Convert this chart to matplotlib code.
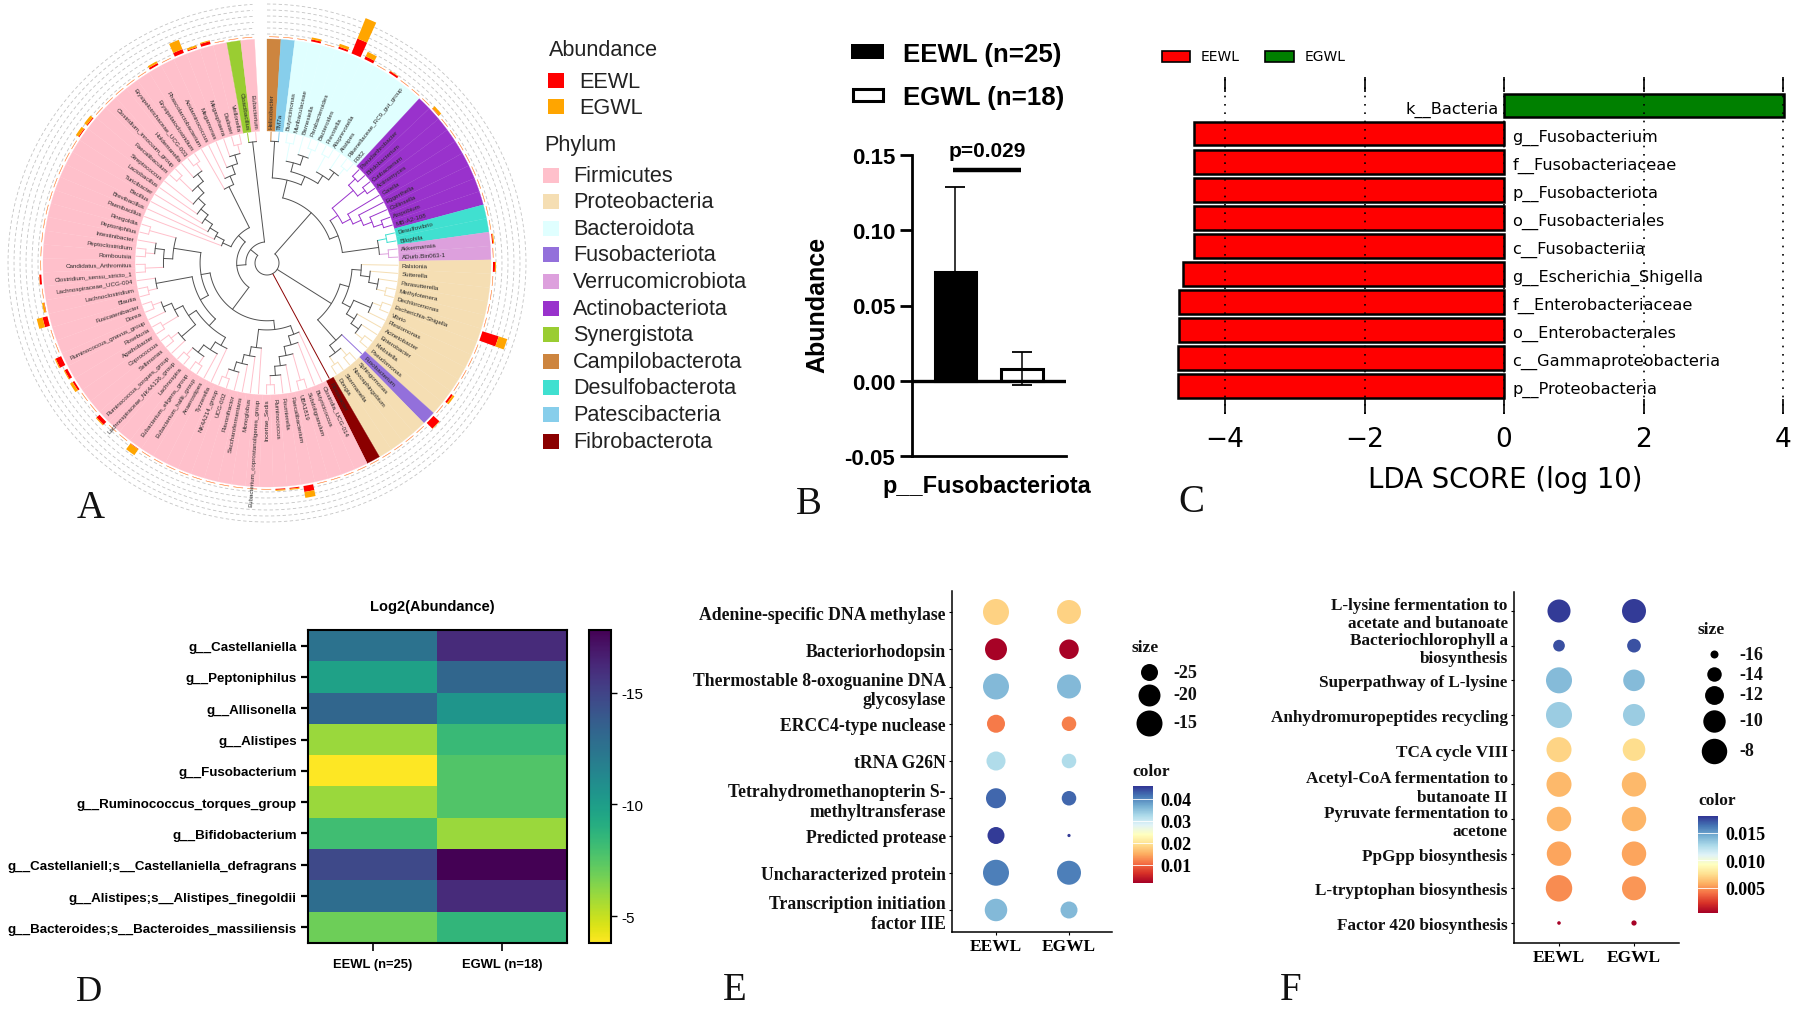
import numpy as np
import matplotlib

matplotlib.use("Agg")
import matplotlib.pyplot as plt
from matplotlib.cm import ScalarMappable
from matplotlib.colors import Normalize
from matplotlib.patches import Rectangle

plt.rcParams["font.family"] = ["Liberation Sans", "DejaVu Sans"]

W, H = 1793, 1012
SERIF = "Liberation Serif"

# --- A: tree, written clockwise from the top gap ---
bacteroidota = [[["Butyricimonas", "Muribaculaceae"], ["Barnesiella", ["Parabacteroides", "Bacteroides"]]],
                [["Prevotella", "Alloprevotella"], ["Alistipes", ["Rikenellaceae_RC9_gut_group", "F082"]]]]
actino = [[["Pseudarthrobacter", "Bifidobacterium"], ["Cutibacterium", "Actinomyces"]],
          ["Gaiella", ["Eggerthella", ["Collinsella", ["Atopobium", "MB-A2-108"]]]]]
proteo_1 = [["Ralstonia", ["Sutterella", ["Parasutterella", ["Methylotenera", "Dechloromonas"]]]],
            [[["Escherichia-Shigella", "Vibrio"], "Plesiomonas"],
             ["Acinetobacter", ["Enterobacter", ["Klebsiella", "Pseudomonas"]]]]]
proteo_2 = [["Sphingomonas", "Novosphingobium"], ["Skermanella", "Dongia"]]
oscillo = ["Clostridia_UCG-014", ["Butyricicoccus", [["Subdoligranulum", "UBA1819"],
           ["Faecalibacterium", ["Fournierella", ["Ruminococcus", "Incertae_Sedis"]]]]]]
copro = ["Eubacterium_coprostanoligenes_group", ["Monoglobus", ["Saccharofermentans",
         ["Flavonifractor", ["UCG-002", "NK4A214_group"]]]]]
lachno = ["Tyzzerella", ["Anaerostipes", [["Eubacterium_hallii_group", "Eubacterium_eligens_group"],
          ["Lachnospira", "Lachnospiraceae_NK4A136_group"]]]]
rumino = [["Ruminococcus_torques_group", ["Sellimonas", "Coprococcus"]],
          [["Agathobacter", "Roseburia"], ["Ruminococcus_gnavus_group", ["Dorea", "Fusicatenibacter"]]]]
blautia = [["Blautia", "Lachnoclostridium"], "Lachnospiraceae_UCG-004"]
clostr = [["Clostridium_sensu_stricto_1", "Candidatus_Arthromitus"],
          [["Romboutsia", "Peptoclostridium"], "Intestinibacter"]]
bacilli = ["Paenibacillus", ["Brevibacillus", ["Bacillus", ["Turicibacter", ["Lactobacillus", ["Streptococcus",
           [["Faecalibaculum", "Clostridium_innocuum_group"],
            ["Holdemanella", ["Erysipelotrichaceae_UCG-003", "Erysipelatoclostridium"]]]]]]]]]
veillon = ["Phascolarctobacterium", ["Acidaminococcus", ["Megamonas", ["Megasphaera", ["Dialister", "Veillonella"]]]]]
firmicutes = [[[oscillo, copro], [[[lachno, rumino], blautia], [clostr, ["Peptoniphilus", "Finegoldia"]]]],
              [bacilli, veillon]]
tree = [[[["Helicobacter", "TM7a"], bacteroidota],
         [actino, [["Desulfovibrio", "Bilophila"], ["Akkermansia", "ADurb.Bin063-1"]]]],
        [proteo_1, ["Fusobacterium", proteo_2]],
        "Fibrobacter",
        [firmicutes, ["Cloacibacillus", "Eubacterium"]]]

phylum_runs = [("Campilobacterota", 1), ("Patescibacteria", 1), ("Bacteroidota", 10), ("Actinobacteriota", 9),
               ("Desulfobacterota", 2), ("Verrucomicrobiota", 2), ("Proteobacteria", 12), ("Fusobacteriota", 1),
               ("Proteobacteria", 4), ("Fibrobacterota", 1), ("Firmicutes", 55), ("Synergistota", 1),
               ("Firmicutes", 1)]
phylum_names = ["Firmicutes", "Proteobacteria", "Bacteroidota", "Fusobacteriota", "Verrucomicrobiota",
                "Actinobacteriota", "Synergistota", "Campilobacterota", "Desulfobacterota",
                "Patescibacteria", "Fibrobacterota"]
phylum_colors = ["#ffc0cb", "#f5deb3", "#e0ffff", "#9370db", "#dda0dd", "#9932cc", "#9acd32", "#cd853f",
                 "#40e0d0", "#87ceeb", "#8b0000"]

# абунданс снаружи кольца, для остальных родов очень маленькое значение
abund_eewl = {"Bacteroides": 0.16, "Prevotella": 0.03, "Faecalibacterium": 0.06, "Escherichia-Shigella": 0.17,
              "Fusobacterium": 0.08, "Megamonas": 0.04, "Blautia": 0.05, "Ruminococcus_gnavus_group": 0.06,
              "Eubacterium_eligens_group": 0.005, "Ruminococcus_torques_group": 0.04, "Agathobacter": 0.02,
              "Roseburia": 0.03, "Muribaculaceae": 0.02, "Parabacteroides": 0.02, "Alistipes": 0.02,
              "Bifidobacterium": 0.005, "Klebsiella": 0.02, "Ralstonia": 0.02, "Akkermansia": 0.01,
              "Dialister": 0.03, "Phascolarctobacterium": 0.02, "Streptococcus": 0.01, "Lactobacillus": 0.01,
              "Lachnoclostridium": 0.005, "Clostridium_sensu_stricto_1": 0.02, "Fournierella": 0.01,
              "Ruminococcus": 0.01, "Megasphaera": 0.01}
abund_egwl = {"Bacteroides": 0.22, "Prevotella": 0.05, "Faecalibacterium": 0.06, "Escherichia-Shigella": 0.09,
              "Fusobacterium": 0.005, "Megamonas": 0.10, "Blautia": 0.06, "Ruminococcus_gnavus_group": 0.01,
              "Eubacterium_eligens_group": 0.07, "Ruminococcus_torques_group": 0.01, "Agathobacter": 0.03,
              "Roseburia": 0.01, "Muribaculaceae": 0.02, "Parabacteroides": 0.03, "Alistipes": 0.005,
              "Bifidobacterium": 0.03, "Klebsiella": 0.02, "Ralstonia": 0.01, "Akkermansia": 0.01,
              "Dialister": 0.01, "Phascolarctobacterium": 0.02, "Streptococcus": 0.03, "Lactobacillus": 0.03,
              "Lachnoclostridium": 0.02, "Fournierella": 0.01, "Ruminococcus": 0.01, "Megasphaera": 0.02}
abund_default = 0.003

# --- B ---
b_values = [0.072, 0.008]
b_err_low = [0.0, 0.011]
b_err_high = [0.057, 0.011]
b_ticks = [-0.05, 0.0, 0.05, 0.10, 0.15]
b_ticklabels = ["-0.05", "0.00", "0.05", "0.10", "0.15"]

# --- C ---
lda_labels = ["k__Bacteria", "g__Fusobacterium", "f__Fusobacteriaceae", "p__Fusobacteriota", "o__Fusobacteriales",
              "c__Fusobacteriia", "g__Escherichia_Shigella", "f__Enterobacteriaceae", "o__Enterobacterales",
              "c__Gammaproteobacteria", "p__Proteobacteria"]
lda_scores = [4.02, -4.45, -4.45, -4.45, -4.45, -4.45, -4.60, -4.66, -4.66, -4.67, -4.68]

# --- D ---
heat_rows = ["g__Castellaniella", "g__Peptoniphilus", "g__Allisonella", "g__Alistipes", "g__Fusobacterium",
             "g__Ruminococcus_torques_group", "g__Bifidobacterium", "g__Castellaniell;s__Castellaniella_defragrans",
             "g__Alistipes;s__Alistipes_finegoldii", "g__Bacteroides;s__Bacteroides_massiliensis"]
heat_cols = ["EEWL (n=25)", "EGWL (n=18)"]
heat_eewl = [-12.5, -9.8, -13.2, -5.9, -3.8, -5.9, -8.1, -14.7, -12.8, -6.9]
heat_egwl = [-16.1, -13.2, -10.5, -8.3, -7.6, -7.6, -5.9, -17.8, -16.1, -8.6]

# --- E ---
e_labels = ["Adenine-specific DNA methylase", "Bacteriorhodopsin", "Thermostable 8-oxoguanine DNA\nglycosylase",
            "ERCC4-type nuclease", "tRNA G26N", "Tetrahydromethanopterin S-\nmethyltransferase",
            "Predicted protease", "Uncharacterized protein", "Transcription initiation\nfactor IIE"]
e_size_eewl = [-15, -20, -15, -24.1, -23.1, -22.1, -25, -15, -19.4]
e_size_egwl = [-17.6, -22.6, -17.6, -27, -27, -27, -32.2, -17.6, -25]
e_color_eewl = [0.0183, 0.002, 0.0358, 0.0115, 0.0322, 0.0424, 0.0455, 0.0406, 0.0358]
e_color_egwl = [0.0183, 0.002, 0.0358, 0.0118, 0.0322, 0.0424, 0.0455, 0.0406, 0.0358]

# --- F ---
f_labels = ["L-lysine fermentation to\nacetate and butanoate", "Bacteriochlorophyll a\nbiosynthesis",
            "Superpathway of L-lysine", "Anhydromuropeptides recycling", "TCA cycle VIII",
            "Acetyl-CoA fermentation to\nbutanoate II", "Pyruvate fermentation to\nacetone",
            "PpGpp biosynthesis", "L-tryptophan biosynthesis", "Factor 420 biosynthesis"]
f_size_eewl = [-9.6, -15, -7.6, -7.6, -8.3, -8.3, -8.7, -8.7, -7.3, -16.7]
f_size_egwl = [-9, -14.3, -10.5, -10.2, -9.9, -8.7, -8.7, -8.7, -9, -16.5]
f_color_eewl = [0.0179, 0.0174, 0.0140, 0.0133, 0.0071, 0.0061, 0.0060, 0.0055, 0.0048, 0.0005]
f_color_egwl = [0.0179, 0.0173, 0.0140, 0.0133, 0.0074, 0.0061, 0.0060, 0.0055, 0.0051, 0.0005]

fig = plt.figure(figsize=(W / 100, H / 100), dpi=100)


def axes_px(left, top, right, bottom, **kw):
    return fig.add_axes([left / W, 1 - bottom / H, (right - left) / W, (bottom - top) / H], **kw)


def lim_px(lo, hi, a_px, a_val, b_px, b_val):
    # какие значения данных попадут на края осей
    k = (b_val - a_val) / (b_px - a_px)
    return a_val + (lo - a_px) * k, a_val + (hi - a_px) * k


# --- A: кольцо и дерево ---
R_TIP, R_ROOT, R_RING, R_LABEL = 131, 12, 224, 135
RMAX = 272
ax_a = axes_px(267 - RMAX, 264 - RMAX, 267 + RMAX, 264 + RMAX, projection="polar")
ax_a.set_theta_zero_location("N")
ax_a.set_theta_direction(-1)
ax_a.set_ylim(0, RMAX)
ax_a.axis("off")

tip_phylum = [name for name, n in phylum_runs for _ in range(n)]
STEP = np.deg2rad((360 - 3.2) / len(tip_phylum))
color_of = dict(zip(phylum_names, phylum_colors))
GRAY = "#505050"


def height(node):
    return 0 if isinstance(node, str) else 1 + max(height(c) for c in node)


def tips(node):
    return [node] if isinstance(node, str) else [t for c in node for t in tips(c)]


tip_names = tips(tree)
tip_index = {t: i for i, t in enumerate(tip_names)}
tree_step = (R_TIP - R_ROOT) / height(tree)


def node_color(node):
    found = {tip_phylum[tip_index[t]] for t in tips(node)}
    if len(found) == 1:
        name = found.pop()
        if height(node) <= 1 or name == "Actinobacteriota":
            return color_of[name]
    return GRAY


def draw_node(node):
    if isinstance(node, str):
        return (tip_index[node] + 0.5) * STEP, R_TIP
    r = R_TIP - tree_step * height(node)
    kids = [draw_node(c) for c in node]
    for child, (th, rc) in zip(node, kids):
        ax_a.plot([th, th], [r, rc], color=node_color(child), lw=0.7, solid_capstyle="round", zorder=3)
    ths = np.linspace(kids[0][0], kids[-1][0], 80)
    ax_a.plot(ths, np.full_like(ths, r), color=node_color(node), lw=0.7, zorder=3)
    return np.mean([kids[0][0], kids[-1][0]]), r


draw_node(tree)

theta = (np.arange(len(tip_names)) + 0.5) * STEP
ax_a.bar(theta, R_RING - R_LABEL + 3, width=STEP, bottom=R_LABEL - 3,
         color=[color_of[p] for p in tip_phylum], edgecolor=[color_of[p] for p in tip_phylum], lw=0.2, zorder=1)

ring_th = np.linspace(0, STEP * len(tip_names), 360)
for r in range(229, 262, 6):
    ax_a.plot(ring_th, np.full_like(ring_th, r), color="#c4c4c4", lw=0.6, ls=(0, (4, 3)), zorder=0)

eewl = np.array([abund_eewl.get(t, abund_default) for t in tip_names]) * 100
egwl = np.array([abund_egwl.get(t, abund_default) for t in tip_names]) * 100
ax_a.bar(theta, eewl, width=STEP * 0.7, bottom=R_RING + 2, color="#ff0000", lw=0, zorder=2)
ax_a.bar(theta, egwl, width=STEP * 0.7, bottom=R_RING + 2 + eewl, color="#ffa500", lw=0, zorder=2)

for th, name in zip(theta, tip_names):
    deg = np.rad2deg(th)
    if deg < 180:
        ax_a.text(th, R_LABEL, name, rotation=90 - deg, rotation_mode="anchor", ha="left", va="center",
                  fontsize=4.5, color="#2a2a2a", zorder=4)
    else:
        ax_a.text(th, R_LABEL, name, rotation=270 - deg, rotation_mode="anchor", ha="right", va="center",
                  fontsize=4.5, color="#2a2a2a", zorder=4)

# --- B ---
ax_b = axes_px(912, 156, 1066, 457)
ax_b.set_xlim(*lim_px(912, 1066, 955.5, 0, 1022, 1))
ax_b.set_ylim(-0.05, 0.15)
ax_b.bar(0, b_values[0], width=0.62, color="black", edgecolor="black", lw=2.2)
ax_b.bar(1, b_values[1], width=0.62, color="white", edgecolor="black", lw=2.2)
ax_b.errorbar([0, 1], b_values, yerr=[b_err_low, b_err_high], fmt="none", ecolor="black", elinewidth=1.1,
              capsize=7.5, capthick=1.3)
ax_b.axhline(0, color="black", lw=2.4)
for s in ["top", "right"]:
    ax_b.spines[s].set_visible(False)
for s in ["left", "bottom"]:
    ax_b.spines[s].set_linewidth(2)
ax_b.set_xticks([])
ax_b.set_yticks(b_ticks)
ax_b.set_yticklabels(b_ticklabels, fontweight="bold", fontsize=16)
ax_b.tick_params(axis="y", length=9, width=2, pad=3)

# --- C ---
ax_c = axes_px(1170, 78, 1790, 415)
ax_c.set_xlim(*lim_px(1170, 1790, 1504, 0, 1783, 4))
ax_c.set_ylim(*lim_px(415, 78, 134.7, 1, 387, 10))
ax_c.barh(range(len(lda_scores)), lda_scores, height=0.84,
          color=["#008000" if v > 0 else "#ff0000" for v in lda_scores], edgecolor="black", lw=1.8)
for i, (name, v) in enumerate(zip(lda_labels, lda_scores)):
    if v > 0:
        ax_c.text(-0.08, i + 0.1, name, ha="right", va="center", fontsize=11.6, family="DejaVu Sans")
    else:
        ax_c.text(0.12, i + 0.1, name, ha="left", va="center", fontsize=11.6, family="DejaVu Sans")
for s in ax_c.spines.values():
    s.set_visible(False)
ax_c.set_axisbelow(False)
ax_c.grid(axis="x", color="black", ls=(0, (1, 4)), lw=1.2)
ax_c.set_yticks([])
ax_c.set_xticks([-4, -2, 0, 2, 4])
ax_c.tick_params(axis="x", direction="in", top=True, bottom=True, length=11, width=1.2, pad=9)
for lab in ax_c.get_xticklabels():
    lab.set_fontfamily("DejaVu Sans")
    lab.set_fontsize(19)

# --- D ---
ax_d = axes_px(308, 631, 567, 944)
heat = np.column_stack([heat_eewl, heat_egwl])
im = ax_d.imshow(heat, cmap="viridis", vmin=-17.8, vmax=-3.8, aspect="auto")
ax_d.set_xticks(range(len(heat_cols)))
ax_d.set_xticklabels(heat_cols, fontweight="bold", fontsize=9.4)
ax_d.set_yticks(range(len(heat_rows)))
ax_d.set_yticklabels(heat_rows, fontweight="bold", fontsize=9.6)
ax_d.tick_params(axis="x", length=6, width=1.2, pad=5)
ax_d.tick_params(axis="y", length=5, width=1.6, pad=3)
for s in ax_d.spines.values():
    s.set_linewidth(1.5)
cax_d = axes_px(589, 631, 611, 944)
cb_d = fig.colorbar(im, cax=cax_d)
cax_d.invert_yaxis()
cb_d.set_ticks([-15, -10, -5])
cb_d.set_ticklabels(["-15", "-10", "-5"])
cb_d.ax.tick_params(length=4, width=1, labelsize=11)
cb_d.outline.set_linewidth(1.5)


# --- E, F ---
def dot_panel(box, cols_px, rows_px, labels, sizes, colors, norm, size_to_s, fontsize):
    left, top, right, bottom = box
    ax = axes_px(left, top, right, bottom)
    ax.set_xlim(*lim_px(left, right, cols_px[0], 0, cols_px[1], 1))
    ax.set_ylim(*lim_px(bottom, top, rows_px[0], 0, rows_px[1], len(labels) - 1))
    y = np.arange(len(labels))
    for j in range(2):
        ax.scatter(np.full(len(labels), j), y, s=size_to_s(np.array(sizes[j])), c=colors[j], cmap="RdYlBu",
                   norm=norm, lw=0, zorder=3)
    for s in ["top", "right"]:
        ax.spines[s].set_visible(False)
    for s in ["left", "bottom"]:
        ax.spines[s].set_linewidth(1.1)
    ax.set_xticks([0, 1])
    ax.set_xticklabels(["EEWL", "EGWL"], family=SERIF, fontweight="bold", fontsize=12.5)
    ax.set_yticks(y)
    ax.set_yticklabels(labels, family=SERIF, fontweight="bold", fontsize=fontsize, color="#111111")
    ax.tick_params(length=2, width=0.8, pad=2.5)
    return ax


def e_size(v):
    return (289 + (np.asarray(v) + 25) * 38.7) * 0.72 ** 2


def f_size(v):
    return np.clip(64 + (np.asarray(v) + 16) * 73, 9, None) * 0.72 ** 2


norm_e = Normalize(0.0018, 0.0459)
norm_f = Normalize(0.0004, 0.0181)
dot_panel((952, 592, 1112, 933), (996, 1069), (613, 911), e_labels, [e_size_eewl, e_size_egwl],
          [e_color_eewl, e_color_egwl], norm_e, e_size, 12.7)
dot_panel((1514, 593, 1679, 944), (1559, 1634), (612, 924), f_labels, [f_size_eewl, f_size_egwl],
          [f_color_eewl, f_color_egwl], norm_f, f_size, 12.3)


def colorbar_px(box, norm, ticks, fmt):
    cax = axes_px(*box)
    cb = fig.colorbar(ScalarMappable(norm=norm, cmap="RdYlBu"), cax=cax)
    cb.set_ticks(ticks)
    cb.set_ticklabels([fmt % t for t in ticks])
    cb.outline.set_visible(False)
    cax.tick_params(length=0, pad=6)
    for t in ticks:
        cax.axhline(t, color="white", lw=0.6)
    for lab in cax.get_yticklabels():
        lab.set_fontfamily(SERIF)
        lab.set_fontweight("bold")
        lab.set_fontsize(13)


colorbar_px((1132.5, 787, 1152.5, 884), norm_e, [0.01, 0.02, 0.03, 0.04], "%.2f")
colorbar_px((1698, 817, 1717.5, 914), norm_f, [0.005, 0.010, 0.015], "%.3f")

# --- подписи поверх всего: легенды и буквы панелей ---
top = fig.add_axes([0, 0, 1, 1])
top.set_xlim(0, W)
top.set_ylim(H, 0)
top.axis("off")
top.patch.set_alpha(0)


def label(x, y, s, **kw):
    kw.setdefault("va", "center")
    top.text(x, y, s, **kw)


# A legend
label(549, 50, "Abundance", fontsize=15.6, color="#222222")
for y, name, c in [(81, "EEWL", "#ff0000"), (107, "EGWL", "#ffa500")]:
    top.add_patch(Rectangle((548, y - 7.5), 16, 15, color=c, lw=0))
    label(579, y + 1, name, fontsize=15.6, color="#222222")
label(544, 145, "Phylum", fontsize=15.6, color="#222222")
for i, (name, c) in enumerate(zip(phylum_names, phylum_colors)):
    y = 176 + 26.6 * i
    top.add_patch(Rectangle((543, y - 7.5), 15.5, 15, color=c, lw=0))
    label(573, y, name, fontsize=15.6, color="#222222")

# B legend
top.add_patch(Rectangle((851, 45), 33, 15, color="black", lw=0))
top.add_patch(Rectangle((852.5, 89.5), 30, 12, facecolor="white", edgecolor="black", lw=2.2))
label(903, 55, "EEWL (n=25)", fontsize=18.6, fontweight="bold")
label(903, 98, "EGWL (n=18)", fontsize=18.6, fontweight="bold")
label(987, 151, "p=0.029", fontsize=15, fontweight="bold", ha="center")
top.plot([953, 1021], [171, 171], color="black", lw=3.2, solid_capstyle="butt")
label(817, 305, "Abundance", fontsize=18, fontweight="bold", rotation=90, ha="center")
label(987, 487, "p__Fusobacteriota", fontsize=16.9, fontweight="bold", ha="center")

# C legend
top.add_patch(Rectangle((1162, 52), 28, 11, facecolor="#ff0000", edgecolor="black", lw=1.2))
top.add_patch(Rectangle((1265, 52), 29, 11, facecolor="#008000", edgecolor="black", lw=1.2))
label(1201, 57, "EEWL", fontsize=10, family="DejaVu Sans")
label(1305, 57, "EGWL", fontsize=10, family="DejaVu Sans")
label(1505, 480, "LDA SCORE (log 10)", fontsize=19.8, family="DejaVu Sans", ha="center")

# D title
label(432, 607, "Log2(Abundance)", fontsize=10.5, fontweight="bold", ha="center")

# E, F size legends
serif_b = dict(family=SERIF, fontweight="bold", color="#111111")
label(1132, 648, "size", fontsize=12.5, **serif_b)
label(1132, 772, "color", fontsize=12.5, **serif_b)
for y, v in [(673, -25), (696, -20), (724, -15)]:
    top.scatter(1148.6, y, s=e_size(v), color="black", lw=0)
    label(1173.6, y, str(v), fontsize=13, **serif_b)
label(1698, 630, "size", fontsize=12.5, **serif_b)
label(1698, 801, "color", fontsize=12.5, **serif_b)
for y, v in [(655, -16), (675, -14), (696, -12), (722, -10), (752, -8)]:
    top.scatter(1714, y, s=f_size(v), color="black", lw=0)
    label(1739, y, str(v), fontsize=13, **serif_b)

# panel letters
for x, y, s, size in [(91, 508, "A", 28), (809, 504, "B", 28), (1191, 503, "C", 28),
                      (89, 993, "D", 26), (735, 991, "E", 28), (1291, 991, "F", 28)]:
    label(x, y, s, family=SERIF, fontsize=size, ha="center", color="#111111")

fig.savefig("out.png", dpi=100)
